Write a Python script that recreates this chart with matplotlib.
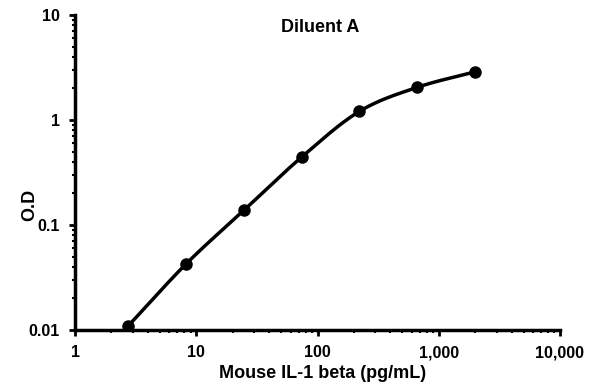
import numpy as np
import matplotlib.pyplot as plt
from matplotlib.ticker import FuncFormatter, LogLocator, NullFormatter

concentration = [2.74, 8.23, 24.7, 74.1, 222.0, 667.0, 2000.0]
od = [0.0109, 0.0425, 0.138, 0.444, 1.21, 2.05, 2.88]

x_ticks = [1, 10, 100, 1000, 10000]
y_ticks = [0.01, 0.1, 1, 10]

plt.rcParams['font.family'] = ['Liberation Sans', 'DejaVu Sans']
plt.rcParams['font.weight'] = 'bold'


def catmullRom(xs, ys, n=30):
    # smooth curve through the points in log space
    px = np.concatenate([[2 * xs[0] - xs[1]], xs, [2 * xs[-1] - xs[-2]]])
    py = np.concatenate([[2 * ys[0] - ys[1]], ys, [2 * ys[-1] - ys[-2]]])
    outX = []
    outY = []
    t = np.linspace(0, 1, n)
    for i in range(1, len(px) - 2):
        for p, out in ((px, outX), (py, outY)):
            p0, p1, p2, p3 = p[i - 1], p[i], p[i + 1], p[i + 2]
            out.append(0.5 * (2 * p1 + (-p0 + p2) * t
                              + (2 * p0 - 5 * p1 + 4 * p2 - p3) * t ** 2
                              + (-p0 + 3 * p1 - 3 * p2 + p3) * t ** 3))
    return np.concatenate(outX), np.concatenate(outY)


lx, ly = catmullRom(np.log10(concentration), np.log10(od))

fig = plt.figure(figsize=(5.95, 3.92), dpi=100)
ax = fig.add_axes([75 / 595, 1 - 330 / 392, 485 / 595, 315 / 392])

ax.plot(10 ** lx, 10 ** ly, color='black', linewidth=2.5, zorder=2)
ax.plot(concentration, od, 'o', color='black', markersize=8, zorder=3)

ax.set_xscale('log')
ax.set_yscale('log')
ax.set_xlim(1, 10000)
ax.set_ylim(0.01, 10)
ax.set_xticks(x_ticks)
ax.set_yticks(y_ticks)
ax.xaxis.set_major_formatter(FuncFormatter(lambda v, p: f'{v:,.0f}'))
ax.yaxis.set_major_formatter(FuncFormatter(lambda v, p: f'{v:g}'))
ax.xaxis.set_minor_locator(LogLocator(base=10, subs=np.arange(2, 10)))
ax.yaxis.set_minor_locator(LogLocator(base=10, subs=np.arange(2, 10)))
ax.xaxis.set_minor_formatter(NullFormatter())
ax.yaxis.set_minor_formatter(NullFormatter())

for side in ['top', 'right']:
    ax.spines[side].set_visible(False)
for side in ['left', 'bottom']:
    ax.spines[side].set_linewidth(2.5)

ax.tick_params(which='major', direction='out', length=4, width=2, labelsize=11.5, pad=7)
ax.tick_params(which='minor', direction='out', length=2, width=1.5)

fig.text(320 / 595, 1 - 28 / 392, 'Diluent A', fontsize=13, fontweight='bold',
         ha='center', va='center')
fig.text(323 / 595, 1 - 373 / 392, 'Mouse IL-1 beta (pg/mL)', fontsize=13,
         fontweight='bold', ha='center', va='center')
fig.text(30 / 595, 1 - 205 / 392, 'O.D', fontsize=13, fontweight='bold',
         ha='center', va='center', rotation=90)

fig.savefig('out.png', dpi=100)
